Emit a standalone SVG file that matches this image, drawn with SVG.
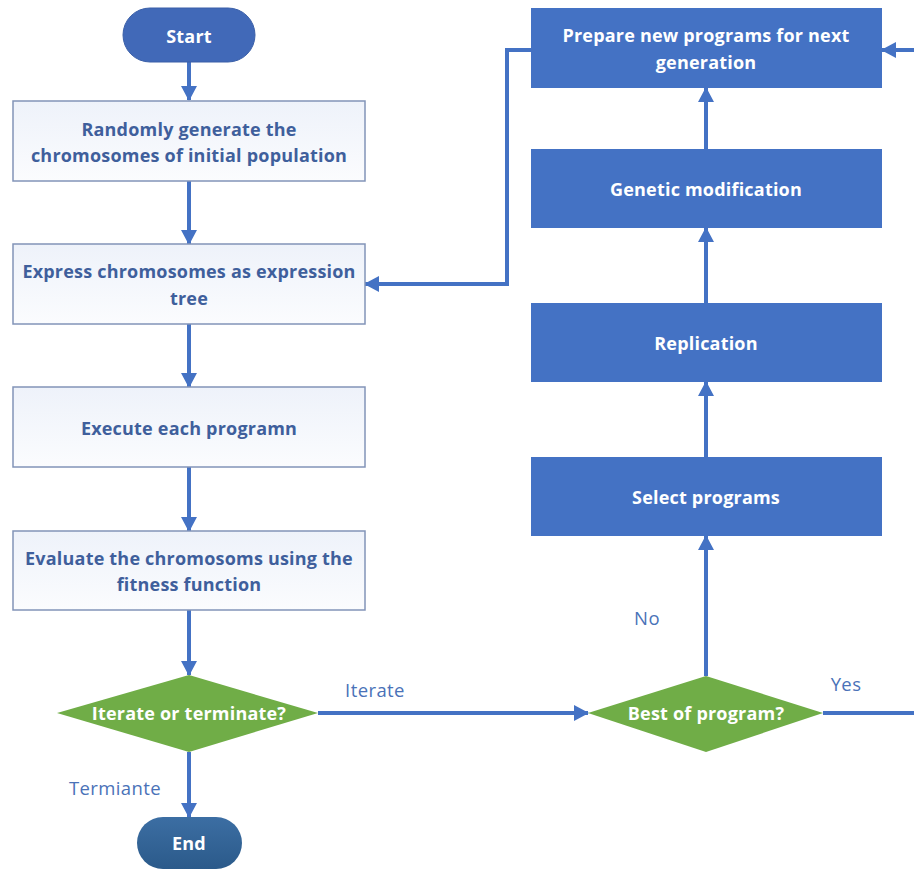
<svg xmlns="http://www.w3.org/2000/svg" width="914" height="870" viewBox="0 0 914 870">
<defs>
<marker id="ah" markerUnits="userSpaceOnUse" markerWidth="16" markerHeight="16" refX="14" refY="8" orient="auto">
<path d="M0,0 L15,8 L0,16 Z" fill="#4472c4"/>
</marker>
<linearGradient id="lg" x1="0" y1="0" x2="0" y2="1">
<stop offset="0" stop-color="#eef2fa"/>
<stop offset="1" stop-color="#fbfcfe"/>
</linearGradient>
<linearGradient id="endg" x1="0" y1="0" x2="0" y2="1">
<stop offset="0" stop-color="#3c6ea3"/>
<stop offset="1" stop-color="#2b5a8a"/>
</linearGradient>
<style>
.lb{fill:url(#lg);stroke:#8294b8;stroke-width:1.5}
.db{fill:#4472c4}
.dm{fill:#70ad47}
.tb{font-family:"Open Sans","Liberation Sans",sans-serif;font-weight:bold;font-size:18px;letter-spacing:0.2px;fill:#3f5f9c;text-anchor:middle}
.tw{font-family:"Open Sans","Liberation Sans",sans-serif;font-weight:bold;font-size:18px;letter-spacing:0.2px;fill:#ffffff;text-anchor:middle}
.tl{font-family:"Open Sans","Liberation Sans",sans-serif;font-size:18.5px;letter-spacing:0.4px;fill:#4a72b8;text-anchor:middle}
.c{fill:none;stroke:#4472c4;stroke-width:4;marker-end:url(#ah)}
</style>
</defs>
<rect width="914" height="870" fill="#ffffff"/>
<g id="connectors">
<path class="c" d="M189,62 V100"/>
<path class="c" d="M189,181 V244"/>
<path class="c" d="M189,324 V387"/>
<path class="c" d="M189,467 V531"/>
<path class="c" d="M189,610 V675"/>
<path class="c" d="M189,752 V817"/>
<path class="c" d="M318,713 H588"/>
<path class="c" d="M706,676 V536"/>
<path class="c" d="M706,457 V382"/>
<path class="c" d="M706,303 V228"/>
<path class="c" d="M706,149 V88"/>
<path class="c" d="M531,50 H507 V284 H365"/>
<path class="c" d="M823,713 H920 V50 H882"/>
</g>
<g id="start">
<rect x="123" y="8" width="132" height="54" rx="27" fill="#4169b8" stroke="#3a5fa8" stroke-width="1"/>
<text class="tw" x="189" y="43">Start</text>
</g>
<g id="random">
<rect class="lb" x="13" y="101" width="352" height="80"/>
<text class="tb" x="189" y="136">Randomly generate the</text>
<text class="tb" x="189" y="162">chromosomes of initial population</text>
</g>
<g id="express">
<rect class="lb" x="13" y="244" width="352" height="80"/>
<text class="tb" x="189" y="278">Express chromosomes as expression</text>
<text class="tb" x="189" y="305">tree</text>
</g>
<g id="execute">
<rect class="lb" x="13" y="387" width="352" height="80"/>
<text class="tb" x="189" y="435">Execute each programn</text>
</g>
<g id="evaluate">
<rect class="lb" x="13" y="531" width="352" height="79"/>
<text class="tb" x="189" y="565">Evaluate the chromosoms using the</text>
<text class="tb" x="189" y="591">fitness function</text>
</g>
<g id="iterate">
<polygon class="dm" points="189,675 318,713 189,752 57,713"/>
<text class="tw" x="189" y="720">Iterate or terminate?</text>
</g>
<g id="end">
<rect x="137" y="817" width="105" height="52" rx="26" fill="url(#endg)"/>
<text class="tw" x="189" y="850">End</text>
</g>
<g id="best">
<polygon class="dm" points="706,676 823,713 706,752 588,713"/>
<text class="tw" x="706" y="720">Best of program?</text>
</g>
<g id="select">
<rect class="db" x="531" y="457" width="351" height="79"/>
<text class="tw" x="706" y="504">Select programs</text>
</g>
<g id="replication">
<rect class="db" x="531" y="303" width="351" height="79"/>
<text class="tw" x="706" y="350">Replication</text>
</g>
<g id="genetic">
<rect class="db" x="531" y="149" width="351" height="79"/>
<text class="tw" x="706" y="196">Genetic modification</text>
</g>
<g id="prepare">
<rect class="db" x="531" y="8" width="351" height="80"/>
<text class="tw" x="706" y="42">Prepare new programs for next</text>
<text class="tw" x="706" y="69">generation</text>
</g>
<g id="labels">
<text class="tl" x="375" y="697">Iterate</text>
<text class="tl" x="115" y="795">Termiante</text>
<text class="tl" x="647" y="625">No</text>
<text class="tl" x="846" y="691">Yes</text>
</g>
</svg>
